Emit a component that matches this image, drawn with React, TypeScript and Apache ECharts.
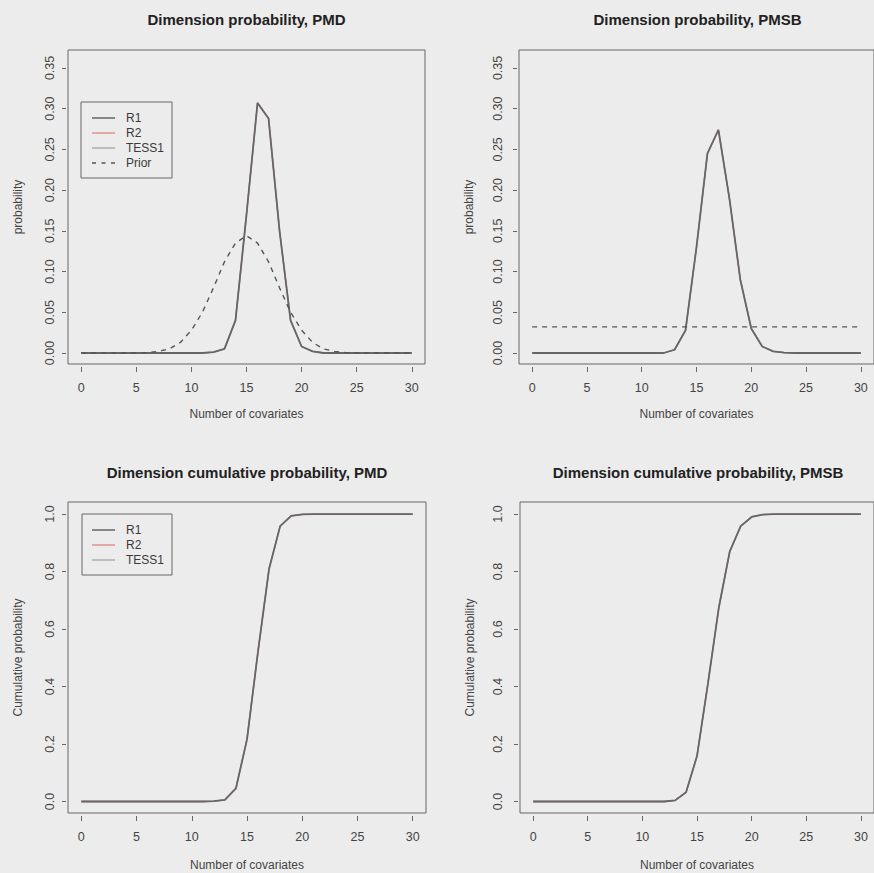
import React, { useEffect, useRef } from "react";
import * as echarts from "echarts";

const covariates = [0,1,2,3,4,5,6,7,8,9,10,11,12,13,14,15,16,17,18,19,20,21,22,23,24,25,26,27,28,29,30];

const pmdR1 = [0,0,0,0,0,0,0,0,0,0,0,0,0.001,0.005,0.04,0.17,0.307,0.288,0.15,0.04,0.008,0.002,0,0,0,0,0,0,0,0,0];
const pmdR2 = [0,0,0,0,0,0,0,0,0,0,0,0,0.001,0.005,0.04,0.17,0.307,0.288,0.15,0.04,0.008,0.002,0,0,0,0,0,0,0,0,0];
const pmdTess1 = [0,0,0,0,0,0,0,0,0,0,0,0,0.001,0.005,0.04,0.17,0.307,0.288,0.15,0.04,0.008,0.002,0,0,0,0,0,0,0,0,0];
const pmdPrior = [0,0,0,0,0,0,0.0005,0.002,0.005,0.013,0.028,0.05,0.08,0.112,0.135,0.144,0.135,0.112,0.08,0.05,0.028,0.013,0.005,0.002,0.0005,0,0,0,0,0,0];

const pmsbR1 = [0,0,0,0,0,0,0,0,0,0,0,0,0,0.004,0.028,0.13,0.245,0.274,0.19,0.09,0.03,0.008,0.002,0.0005,0,0,0,0,0,0,0];
const pmsbR2 = [0,0,0,0,0,0,0,0,0,0,0,0,0,0.004,0.028,0.13,0.245,0.274,0.19,0.09,0.03,0.008,0.002,0.0005,0,0,0,0,0,0,0];
const pmsbTess1 = [0,0,0,0,0,0,0,0,0,0,0,0,0,0.004,0.028,0.13,0.245,0.274,0.19,0.09,0.03,0.008,0.002,0.0005,0,0,0,0,0,0,0];
const pmsbPrior = [0.032,0.032,0.032,0.032,0.032,0.032,0.032,0.032,0.032,0.032,0.032,0.032,0.032,0.032,0.032,0.032,0.032,0.032,0.032,0.032,0.032,0.032,0.032,0.032,0.032,0.032,0.032,0.032,0.032,0.032,0.032];

const pmdCumR1 = [0,0,0,0,0,0,0,0,0,0,0,0,0.001,0.006,0.046,0.216,0.523,0.81,0.958,0.994,0.999,1,1,1,1,1,1,1,1,1,1];
const pmdCumR2 = [0,0,0,0,0,0,0,0,0,0,0,0,0.001,0.006,0.046,0.216,0.523,0.81,0.958,0.994,0.999,1,1,1,1,1,1,1,1,1,1];
const pmdCumTess1 = [0,0,0,0,0,0,0,0,0,0,0,0,0.001,0.006,0.046,0.216,0.523,0.81,0.958,0.994,0.999,1,1,1,1,1,1,1,1,1,1];

const pmsbCumR1 = [0,0,0,0,0,0,0,0,0,0,0,0,0,0.004,0.032,0.158,0.41,0.675,0.87,0.958,0.99,0.998,1,1,1,1,1,1,1,1,1];
const pmsbCumR2 = [0,0,0,0,0,0,0,0,0,0,0,0,0,0.004,0.032,0.158,0.41,0.675,0.87,0.958,0.99,0.998,1,1,1,1,1,1,1,1,1];
const pmsbCumTess1 = [0,0,0,0,0,0,0,0,0,0,0,0,0,0.004,0.032,0.158,0.41,0.675,0.87,0.958,0.99,0.998,1,1,1,1,1,1,1,1,1];

const xTicks = [0, 5, 10, 15, 20, 25, 30];
const probTicks = [0, 0.05, 0.1, 0.15, 0.2, 0.25, 0.3, 0.35];
const cumTicks = [0, 0.2, 0.4, 0.6, 0.8, 1.0];

const titles = [
  "Dimension probability, PMD",
  "Dimension probability, PMSB",
  "Dimension cumulative probability, PMD",
  "Dimension cumulative probability, PMSB",
];
const xTitle = "Number of covariates";
const yTitles = ["probability", "probability", "Cumulative probability", "Cumulative probability"];

const FONT = "'Liberation Sans', Arial, sans-serif";
const TEXT = "#444";
const C_R1 = "#666666";
const C_R2 = "#e39090";
const C_TESS = "#aab0aa";
const C_PRIOR = "#555";

const SOLID_ICON = "path://M0,0h46v3h-46z";
const DASH_ICON = "path://M0,0h8v3h-8z M19,0h8v3h-8z M38,0h8v3h-8z";

function pairs(v: number[]) {
  return covariates.map((x, i) => [x, v[i]]);
}

export default function App() {
  const ref = useRef<HTMLDivElement>(null);
  useEffect(() => {
    if (!ref.current) return;
    const chart = echarts.init(ref.current, null, { renderer: "svg" });

    const grids = [
      { left: 68, top: 50, width: 357, height: 314 },
      { left: 519, top: 50, width: 357, height: 314 },
      { left: 68, top: 502, width: 358, height: 311 },
      { left: 520, top: 502, width: 357, height: 311 },
    ];
    const yLabelMargins = [10, 13, 10, 14];

    const xAxes = grids.map((_, i) => ({
      type: "value",
      gridIndex: i,
      min: -1.2,
      max: 31.2,
      offset: 3,
      position: "bottom",
      name: xTitle,
      nameLocation: "middle",
      nameGap: i < 2 ? 41 : 43,
      nameTextStyle: { fontFamily: FONT, fontSize: 12, color: TEXT },
      axisLine: { show: false, onZero: false },
      splitLine: { show: false },
      axisTick: { show: true, inside: false, length: 5, lineStyle: { color: "#666" }, customValues: xTicks },
      axisLabel: {
        fontFamily: FONT,
        fontSize: 12.5,
        color: TEXT,
        margin: 14,
        customValues: xTicks,
        formatter: (v: number) => String(v),
      },
    }));

    const yAxes = grids.map((_, i) => {
      const prob = i < 2;
      return {
        type: "value",
        gridIndex: i,
        min: prob ? -0.0135 : -0.04,
        max: prob ? 0.372 : 1.042,
        offset: 2,
        position: "left",
        name: yTitles[i],
        nameLocation: "middle",
        nameGap: 42,
        nameRotate: 90,
        nameTextStyle: { fontFamily: FONT, fontSize: 12, color: TEXT },
        axisLine: { show: false, onZero: false },
        splitLine: { show: false },
        axisTick: { show: true, inside: false, length: 4, lineStyle: { color: "#666" }, customValues: prob ? probTicks : cumTicks },
        axisLabel: {
          fontFamily: FONT,
          fontSize: 12.5,
          color: TEXT,
          rotate: 90,
          margin: yLabelMargins[i],
          customValues: prob ? probTicks : cumTicks,
          formatter: (v: number) => (prob ? v.toFixed(2) : v.toFixed(1)),
        },
      };
    });

    const line = (name: string, idx: number, data: number[], color: string, dashed = false, width = 1.3) => ({
      type: "line",
      name,
      xAxisIndex: idx,
      yAxisIndex: idx,
      data: pairs(data),
      symbol: "none",
      showSymbol: false,
      lineStyle: { color, width, type: dashed ? [5, 5] : "solid" },
      itemStyle: { color },
      z: 2,
    });

    const series = [
      line("TESS1", 0, pmdTess1, C_TESS),
      line("R2", 0, pmdR2, C_R2),
      line("R1", 0, pmdR1, C_R1, false, 1.8),
      line("Prior", 0, pmdPrior, C_PRIOR, true, 1.4),
      line("TESS1", 1, pmsbTess1, C_TESS),
      line("R2", 1, pmsbR2, C_R2),
      line("R1", 1, pmsbR1, C_R1, false, 1.8),
      line("Prior", 1, pmsbPrior, C_PRIOR, true, 1.2),
      line("TESS1", 2, pmdCumTess1, C_TESS),
      line("R2", 2, pmdCumR2, C_R2),
      line("R1", 2, pmdCumR1, C_R1, false, 1.8),
      line("TESS1", 3, pmsbCumTess1, C_TESS),
      line("R2", 3, pmsbCumR2, C_R2),
      line("R1", 3, pmsbCumR1, C_R1, false, 1.8),
    ];

    const legendCommon = {
      orient: "vertical",
      itemWidth: 23,
      itemHeight: 10,
      itemGap: 3,
      symbolKeepAspect: true,
      borderColor: "#666",
      borderWidth: 1,
      borderRadius: 0,
      backgroundColor: "transparent",
      selectedMode: false,
      textStyle: { fontFamily: FONT, fontSize: 12, lineHeight: 10, color: "#3a3a3a", padding: [0, 0, 0, 6] },
    };

    const legendItems = (names: string[]) =>
      names.map((n) => ({ name: n, icon: n === "Prior" ? DASH_ICON : SOLID_ICON }));

    const titleCenters = [
      [246.5, 19],
      [697.5, 19],
      [247, 472],
      [698, 472],
    ];

    chart.setOption({
      animation: false,
      backgroundColor: "transparent",
      grid: grids.map((g) => ({ ...g, show: true, borderColor: "#666", borderWidth: 1, backgroundColor: "transparent", containLabel: false })),
      xAxis: xAxes,
      yAxis: yAxes,
      series,
      legend: [
        { ...legendCommon, left: 81, top: 102, padding: [10, 8, 9, 11], data: legendItems(["R1", "R2", "TESS1", "Prior"]) },
        { ...legendCommon, left: 82, top: 514, padding: [10, 8, 9, 10], data: legendItems(["R1", "R2", "TESS1"]) },
      ],
      graphic: titles.map((t, i) => ({
        type: "text",
        x: titleCenters[i][0],
        y: titleCenters[i][1],
        style: {
          text: t,
          font: `bold 15px ${FONT}`,
          fill: "#222",
          textAlign: "center",
          textVerticalAlign: "middle",
        },
      })),
    });

    return () => chart.dispose();
  }, []);

  return (
    <div
      ref={ref}
      style={{ position: "fixed", left: 0, top: 0, width: 874, height: 873, background: "#ececec" }}
    />
  );
}
